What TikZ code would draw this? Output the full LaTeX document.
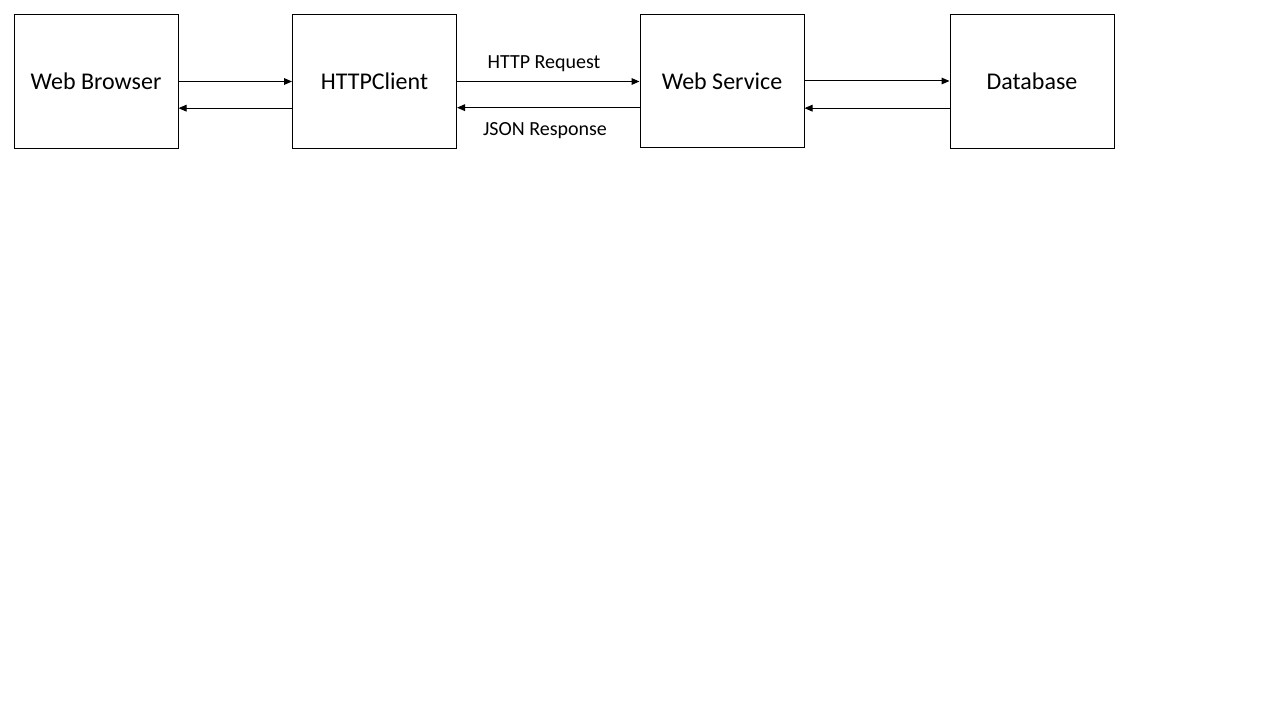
\documentclass[tikz,border=0pt]{standalone}
\usepackage{fontspec}
\setmainfont{Carlito}
\usetikzlibrary{arrows.meta,positioning}
\tikzset{
  web/box/.style={
    draw=black,
    line width=0.75pt,
    fill=white,
    align=center,
    minimum width=123pt,
    minimum height=100pt,
    inner sep=0pt,
    font=\fontsize{18}{22}\selectfont
  },
  web/arrow/.style={-{Triangle[length=6pt,width=5pt]}, line width=0.75pt, draw=black},
  web/label/.style={font=\fontsize{15}{18}\selectfont, inner sep=0pt}
}
\begin{document}
\begin{tikzpicture}[x=0.75pt,y=-0.75pt]
  \useasboundingbox[fill=white] (0,0) rectangle (1280,720);
  \node[web/box] (browser) at (96,81.5) {Web Browser};
  \node[web/box] (client) at (374.5,81.5) {HTTPClient};
  \node[web/box] (service) at (722,81) {Web Service};
  \node[web/box] (db) at (1032,81.5) {Database};
  % upper arrows go right, lower ones come back
  \draw[web/arrow] (browser.east) -- (client.west);
  \draw[web/arrow] ([yshift=-20pt]client.west) -- ([yshift=-20pt]browser.east);
  \draw[web/arrow] (client.east) -- (service.west |- client.east);
  \draw[web/arrow] ([yshift=-20pt]service.west) -- ([yshift=-20pt]service.west -| client.east);
  \draw[web/arrow] (service.east) -- (db.west |- service.east);
  \draw[web/arrow] ([yshift=-20pt]db.west) -- ([yshift=-20pt]db.west -| service.east);
  \node[web/label] (req) at (544,64) {HTTP Request};
  \node[web/label] (resp) at (545,131) {JSON Response};
\end{tikzpicture}
\end{document}
